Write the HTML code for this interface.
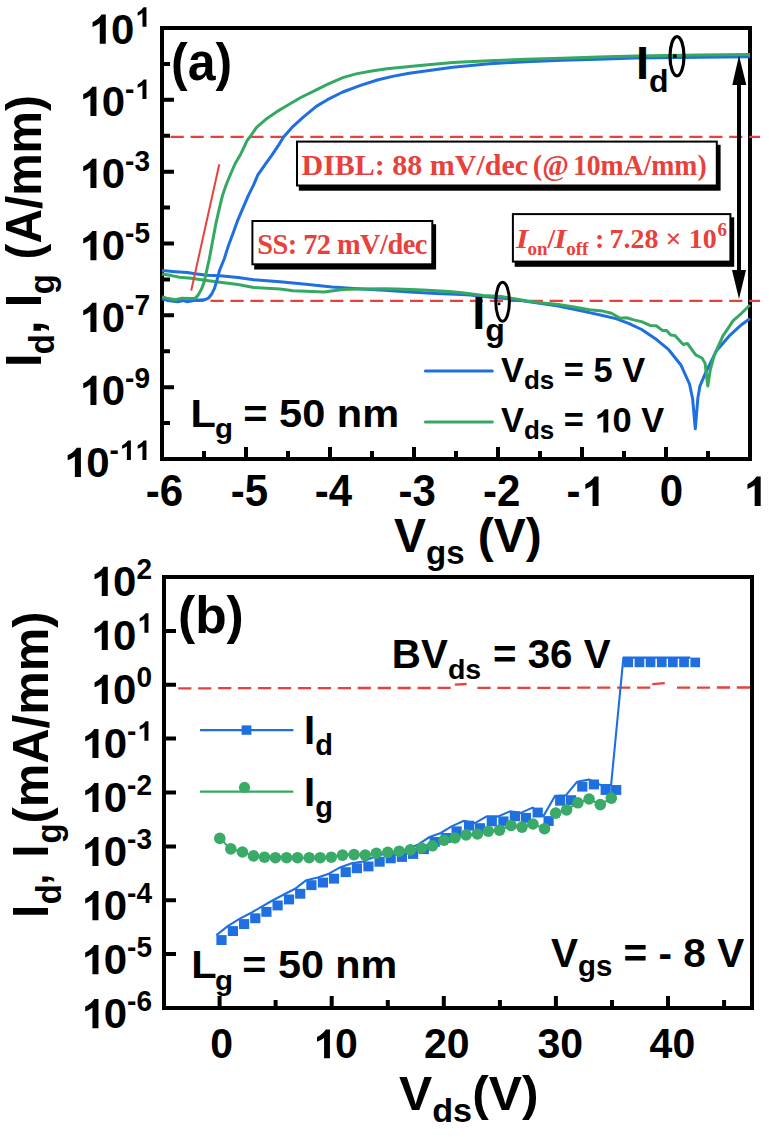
<!DOCTYPE html>
<html><head><meta charset="utf-8"><title>figure</title>
<style>
html,body{margin:0;padding:0;background:#fff;overflow:hidden;}
svg{display:block;}
text{font-family:"Liberation Sans",sans-serif;font-weight:bold;fill:#000;}
.ser text{font-family:"Liberation Serif",serif;fill:#e8413c;}
</style></head>
<body>
<svg width="769" height="1137" viewBox="0 0 769 1137">
<rect width="769" height="1137" fill="#fff"/>
<rect x="162" y="28" width="588" height="431" fill="none" stroke="#000" stroke-width="4"/>
<path d="M162 28.0H174 M162 63.9H170 M162 99.8H174 M162 135.8H170 M162 171.7H174 M162 207.6H170 M162 243.5H174 M162 279.4H170 M162 315.3H174 M162 351.3H170 M162 387.2H174 M162 423.1H170 M162 459.0H174 M162.0 459V447 M204.0 459V451 M246.0 459V447 M288.0 459V451 M330.0 459V447 M372.0 459V451 M414.0 459V447 M456.0 459V451 M498.0 459V447 M540.0 459V451 M582.0 459V447 M624.0 459V451 M666.0 459V447 M708.0 459V451 M750.0 459V447" stroke="#000" stroke-width="4" fill="none"/>
<path transform="translate(150.00,43.80) scale(1.0000,1.0300) translate(-62.29,0.00) scale(42.000,-42.000)" d="M0.43 0L0.43 0.675L0.33 0.675Q0.26 0.57 0.115 0.5L0.115 0.387Q0.21 0.42 0.287 0.475L0.287 0Z"/>
<path transform="translate(150.00,43.80) scale(1.0000,1.0300) translate(-15.58,-16.50) scale(28.000,-28.000)" d="M0.43 0L0.43 0.675L0.33 0.675Q0.26 0.57 0.115 0.5L0.115 0.387Q0.21 0.42 0.287 0.475L0.287 0Z"/>
<text id="o0" transform="translate(150.00,43.80) scale(1.0000,1.0300)" font-size="42" text-anchor="end"> 0<tspan dy="-16.5" font-size="28"> </tspan></text>
<path transform="translate(150.00,115.93) scale(1.0000,1.0300) translate(-71.61,0.00) scale(42.000,-42.000)" d="M0.43 0L0.43 0.675L0.33 0.675Q0.26 0.57 0.115 0.5L0.115 0.387Q0.21 0.42 0.287 0.475L0.287 0Z"/>
<path transform="translate(150.00,115.93) scale(1.0000,1.0300) translate(-15.58,-16.50) scale(28.000,-28.000)" d="M0.43 0L0.43 0.675L0.33 0.675Q0.26 0.57 0.115 0.5L0.115 0.387Q0.21 0.42 0.287 0.475L0.287 0Z"/>
<text id="o1" transform="translate(150.00,115.93) scale(1.0000,1.0300)" font-size="42" text-anchor="end"> 0<tspan dy="-16.5" font-size="28">- </tspan></text>
<path transform="translate(150.00,188.07) scale(1.0000,1.0300) translate(-71.61,0.00) scale(42.000,-42.000)" d="M0.43 0L0.43 0.675L0.33 0.675Q0.26 0.57 0.115 0.5L0.115 0.387Q0.21 0.42 0.287 0.475L0.287 0Z"/>
<text id="o2" transform="translate(150.00,188.07) scale(1.0000,1.0300)" font-size="42" text-anchor="end"> 0<tspan dy="-16.5" font-size="28">-3</tspan></text>
<path transform="translate(150.00,260.20) scale(1.0000,1.0300) translate(-71.61,0.00) scale(42.000,-42.000)" d="M0.43 0L0.43 0.675L0.33 0.675Q0.26 0.57 0.115 0.5L0.115 0.387Q0.21 0.42 0.287 0.475L0.287 0Z"/>
<text id="o3" transform="translate(150.00,260.20) scale(1.0000,1.0300)" font-size="42" text-anchor="end"> 0<tspan dy="-16.5" font-size="28">-5</tspan></text>
<path transform="translate(150.00,332.04) scale(1.0000,1.0300) translate(-71.61,0.00) scale(42.000,-42.000)" d="M0.43 0L0.43 0.675L0.33 0.675Q0.26 0.57 0.115 0.5L0.115 0.387Q0.21 0.42 0.287 0.475L0.287 0Z"/>
<text id="o4" transform="translate(150.00,332.04) scale(1.0000,1.0300)" font-size="42" text-anchor="end"> 0<tspan dy="-16.5" font-size="28">-7</tspan></text>
<path transform="translate(150.00,404.97) scale(1.0000,1.0300) translate(-71.61,0.00) scale(42.000,-42.000)" d="M0.43 0L0.43 0.675L0.33 0.675Q0.26 0.57 0.115 0.5L0.115 0.387Q0.21 0.42 0.287 0.475L0.287 0Z"/>
<text id="o5" transform="translate(150.00,404.97) scale(1.0000,1.0300)" font-size="42" text-anchor="end"> 0<tspan dy="-16.5" font-size="28">-9</tspan></text>
<path transform="translate(150.00,477.00) scale(1.0000,1.0300) translate(-87.17,0.00) scale(42.000,-42.000)" d="M0.43 0L0.43 0.675L0.33 0.675Q0.26 0.57 0.115 0.5L0.115 0.387Q0.21 0.42 0.287 0.475L0.287 0Z"/>
<path transform="translate(150.00,477.00) scale(1.0000,1.0300) translate(-31.14,-16.50) scale(28.000,-28.000)" d="M0.43 0L0.43 0.675L0.33 0.675Q0.26 0.57 0.115 0.5L0.115 0.387Q0.21 0.42 0.287 0.475L0.287 0Z"/>
<path transform="translate(150.00,477.00) scale(1.0000,1.0300) translate(-15.58,-16.50) scale(28.000,-28.000)" d="M0.43 0L0.43 0.675L0.33 0.675Q0.26 0.57 0.115 0.5L0.115 0.387Q0.21 0.42 0.287 0.475L0.287 0Z"/>
<text id="o6" transform="translate(150.00,477.00) scale(1.0000,1.0300)" font-size="42" text-anchor="end"> 0<tspan dy="-16.5" font-size="28">-  </tspan></text>
<text transform="translate(164.40,506.00) scale(1.0000,1.0400)" font-size="42" text-anchor="middle">-6</text>
<text transform="translate(249.50,506.00) scale(1.0000,1.0400)" font-size="42" text-anchor="middle">-5</text>
<text transform="translate(333.50,506.00) scale(1.0000,1.0400)" font-size="42" text-anchor="middle">-4</text>
<text transform="translate(417.10,506.00) scale(1.0000,1.0400)" font-size="42" text-anchor="middle">-3</text>
<text transform="translate(501.70,506.00) scale(1.0000,1.0400)" font-size="42" text-anchor="middle">-2</text>
<path transform="translate(585.20,506.00) scale(1.0000,1.0400) translate(-4.70,0.00) scale(42.000,-42.000)" d="M0.43 0L0.43 0.675L0.33 0.675Q0.26 0.57 0.115 0.5L0.115 0.387Q0.21 0.42 0.287 0.475L0.287 0Z"/>
<text id="o7" transform="translate(585.20,506.00) scale(1.0000,1.0400)" font-size="42" text-anchor="middle">- </text>
<text transform="translate(671.40,506.00) scale(1.0000,1.0400)" font-size="42" text-anchor="middle">0</text>
<path transform="translate(754.30,506.00) scale(1.0000,1.0400) translate(-11.68,0.00) scale(42.000,-42.000)" d="M0.43 0L0.43 0.675L0.33 0.675Q0.26 0.57 0.115 0.5L0.115 0.387Q0.21 0.42 0.287 0.475L0.287 0Z"/>
<text id="o8" transform="translate(754.30,506.00) scale(1.0000,1.0400)" font-size="42" text-anchor="middle"> </text>
<text transform="translate(40.70,367.10) rotate(-90) scale(1.0000,1.0400)" font-size="48">I</text>
<text transform="translate(53.90,354.20) rotate(-90) scale(1.0000,1.0400)" font-size="33">d</text>
<text transform="translate(40.70,333.90) rotate(-90) scale(1.0000,1.0400)" font-size="48">,</text>
<text transform="translate(40.70,307.30) rotate(-90) scale(1.0000,1.0400)" font-size="48">I</text>
<text transform="translate(53.50,294.30) rotate(-90) scale(1.0000,1.0400)" font-size="33">g</text>
<text transform="translate(40.70,259.50) rotate(-90) scale(0.9950,1.0400)" font-size="48">(A/mm)</text>
<text transform="translate(394.00,552.00)" font-size="48">V<tspan dy="12.4" font-size="33">gs</tspan><tspan dy="-12.4"> (V)</tspan></text>
<path d="M170.6 136.8H760 M170.6 300.8H760" stroke="#e8413c" stroke-width="2.3" stroke-dasharray="13.2 6.75" fill="none"/>
<g fill="none" stroke-width="3" stroke-linejoin="round">
<polyline points="162.0,270.5 175.6,271.7 187.3,272.5 195.1,273.7 206.8,275.2 220.0,275.8 238.0,277.6 253.6,279.7 280.0,281.7 306.0,284.3 332.0,286.9 358.0,288.7 384.0,290.3 410.0,292.1 436.0,293.4 462.0,294.5 470.0,295.0 492.1,297.2 514.2,299.4 527.5,301.6 543.0,303.8 558.4,306.0 573.9,309.3 589.4,312.6 602.6,315.5 615.9,318.6 629.2,323.7 641.6,329.5 656.2,339.3 668.7,349.7 681.1,365.3 689.5,384.0 692.6,398.6 695.3,428.8 697.8,398.6 699.9,386.1 706.1,371.6 716.5,350.7 729.0,336.2 741.5,324.7 750.0,318.5" stroke="#1f6fe0"/>
<polyline points="162.0,274.0 171.7,275.6 179.5,277.2 191.2,278.3 202.9,279.9 220.0,282.2 238.0,284.5 253.6,287.5 280.0,289.0 293.0,290.8 306.0,291.3 324.2,292.1 342.4,289.5 358.0,289.0 384.0,288.7 397.0,289.0 410.0,289.5 423.0,290.0 436.0,290.8 449.0,291.6 462.0,292.8 470.0,293.8 483.3,295.6 501.0,296.5 514.2,298.7 527.5,300.9 543.0,303.1 558.4,304.5 573.9,307.1 589.4,309.8 602.6,311.1 611.5,313.3 620.3,318.2 626.9,317.7 633.6,319.9 641.6,321.6 650.0,325.4 656.2,325.8 662.4,330.4 666.6,330.6 670.7,335.1 674.9,335.6 683.2,344.5 687.4,343.5 695.7,354.9 702.0,358.0 705.1,363.2 707.8,386.1 710.3,369.5 714.4,354.9 722.8,336.2 733.2,320.6 741.5,313.3 750.0,305.0" stroke="#35a862"/>
<polyline points="162.0,298.6 167.8,300.6 177.9,301.7 183.4,300.6 187.3,301.7 195.1,300.2 204.5,299.8 208.4,298.2 211.5,294.3 214.6,288.1 216.9,280.3 219.6,270.2 224.3,258.7 228.5,245.4 233.5,232.0 237.7,220.3 242.7,208.6 248.5,195.2 253.5,185.2 257.7,175.2 265.2,164.3 271.9,155.1 278.6,145.1 283.6,137.0 292.0,127.4 303.0,117.4 316.3,106.4 327.4,99.7 342.8,92.0 360.5,85.4 378.2,79.8 393.7,76.1 409.2,73.2 420.0,71.7 452.8,67.3 489.2,63.7 525.7,61.8 562.1,60.3 598.5,59.2 634.9,57.9 700.0,57.2 750.0,56.8" stroke="#1f6fe0"/>
<polyline points="162.0,296.7 167.8,298.6 175.6,299.8 181.8,298.2 189.6,298.6 195.1,298.4 198.2,295.1 201.3,289.6 203.7,283.4 206.0,274.0 207.6,266.2 209.1,260.0 210.9,250.4 213.4,237.0 215.9,223.6 219.3,208.6 222.6,195.2 226.0,185.2 230.1,175.2 235.2,163.5 240.2,155.1 244.3,146.7 246.9,140.9 250.2,136.5 256.6,127.4 265.5,119.6 276.5,111.9 287.6,105.3 300.8,97.5 316.3,89.8 327.4,84.3 342.8,77.6 356.1,73.9 371.6,71.0 387.0,68.8 404.7,67.0 420.0,65.5 452.8,62.6 489.2,60.8 525.7,59.3 562.1,58.2 598.5,57.1 634.9,56.0 700.0,55.0 750.0,54.5" stroke="#35a862"/>
</g>
<path d="M191.2 290.6L219.3 164.2" stroke="#e8413c" stroke-width="2" fill="none"/>
<rect x="298.8" y="144.8" width="421.8" height="45.9" fill="#000"/>
<rect x="297.0" y="141.6" width="419.8" height="43.9" fill="#fff" stroke="#000" stroke-width="2"/>
<rect x="254.2" y="224.2" width="181.9" height="45.3" fill="#000"/>
<rect x="252.4" y="221.0" width="179.9" height="43.3" fill="#fff" stroke="#000" stroke-width="2"/>
<rect x="514.7" y="217.3" width="219.5" height="49.5" fill="#000"/>
<rect x="512.9" y="214.1" width="217.5" height="47.5" fill="#fff" stroke="#000" stroke-width="2"/>
<g class="ser" fill="#e8413c">
<text x="301.5" y="175" font-size="30">DIBL: 88 mV/dec</text>
<text transform="translate(532.8,175) scale(1,1.04)" font-size="28.6">(@</text>
<text transform="translate(572.9,175) scale(0.968,1.04)" font-size="28.6">10mA/mm)</text>
<text transform="translate(257.3,254.3) scale(1,1.05)" font-size="28.4" textLength="170" lengthAdjust="spacing">SS: 72 mV/dec</text>
<text transform="translate(516.0,248.2) scale(1.13,1)" font-size="28" font-style="italic">I</text>
<text x="527.6" y="255.0" font-size="19">on</text>
<text x="547.5" y="248.2" font-size="28">/</text>
<text transform="translate(554.2,248.2) scale(1.13,1)" font-size="28" font-style="italic">I</text>
<text x="566.3" y="255.0" font-size="19">off</text>
<text x="594.9" y="248.2" font-size="28">:</text>
<text x="609.4" y="248.2" font-size="28">7.28</text>
<text x="665.4" y="248.2" font-size="28">&#215;</text>
<text x="688.8" y="248.2" font-size="28">10</text>
<text x="717.6" y="236.4" font-size="19">6</text>
</g>
<path d="M739 84V271" stroke="#000" stroke-width="4"/>
<path d="M739 55.4L732.3 85H746.3Z M739 298.9L732 270H746Z" fill="#000"/>
<text x="636" y="79" font-size="47">I<tspan dy="13.2" font-size="32">d</tspan></text>
<ellipse cx="677" cy="56.2" rx="7" ry="19.6" fill="none" stroke="#000" stroke-width="3.2"/>
<rect x="673" y="54.3" width="3.6" height="3.6" fill="#000"/>
<text x="472.2" y="328.7" font-size="47">I<tspan dy="12.5" font-size="32">g</tspan></text>
<ellipse cx="502.6" cy="301.8" rx="6.8" ry="19.5" fill="none" stroke="#000" stroke-width="3"/>
<rect x="497.8" y="302.5" width="2.6" height="2.6" fill="#000"/>
<path d="M425.4 371.1H492.3" stroke="#1f6fe0" stroke-width="3" stroke-linecap="round"/>
<path d="M425.4 422.1H492.3" stroke="#35a862" stroke-width="3" stroke-linecap="round"/>
<text x="501" y="381.6" font-size="34.4">V<tspan dy="7" font-size="26">ds</tspan><tspan dy="-7"> = 5 V</tspan></text>
<path transform="translate(501.00,432.40) translate(92.48,0.00) scale(34.400,-34.400)" d="M0.43 0L0.43 0.675L0.33 0.675Q0.26 0.57 0.115 0.5L0.115 0.387Q0.21 0.42 0.287 0.475L0.287 0Z"/>
<text id="o9" transform="translate(501.00,432.40)" font-size="34.4">V<tspan dy="7" font-size="26">ds</tspan><tspan dy="-7"> =  0 V</tspan></text>
<text transform="translate(190.40,427.40) scale(1.0650,1.0000)" font-size="39">L</text>
<text transform="translate(215.00,438.10) scale(1.0900,1.0000)" font-size="27">g</text>
<text transform="translate(243.30,427.40) scale(1.0650,1.0000)" font-size="39">= 50 nm</text>
<text transform="translate(171.00,80.00) scale(1.0000,1.0400)" font-size="50">(a)</text>
<rect x="164" y="577" width="588" height="431" fill="none" stroke="#000" stroke-width="4"/>
<path d="M164 577.0H176 M164 630.9H176 M164 684.8H176 M164 738.6H176 M164 792.5H176 M164 846.4H176 M164 900.2H176 M164 954.1H176 M164 1008.0H176 M219.6 1008V996 M275.6 1008V1000 M331.7 1008V996 M387.8 1008V1000 M443.8 1008V996 M499.9 1008V1000 M555.9 1008V996 M612.0 1008V1000 M668.0 1008V996 M724.1 1008V1000" stroke="#000" stroke-width="4" fill="none"/>
<path transform="translate(152.00,596.00) scale(1.0000,1.0300) translate(-62.29,0.00) scale(42.000,-42.000)" d="M0.43 0L0.43 0.675L0.33 0.675Q0.26 0.57 0.115 0.5L0.115 0.387Q0.21 0.42 0.287 0.475L0.287 0Z"/>
<text id="o10" transform="translate(152.00,596.00) scale(1.0000,1.0300)" font-size="42" text-anchor="end"> 0<tspan dy="-16.8" font-size="28">2</tspan></text>
<path transform="translate(152.00,650.02) scale(1.0000,1.0300) translate(-62.29,0.00) scale(42.000,-42.000)" d="M0.43 0L0.43 0.675L0.33 0.675Q0.26 0.57 0.115 0.5L0.115 0.387Q0.21 0.42 0.287 0.475L0.287 0Z"/>
<path transform="translate(152.00,650.02) scale(1.0000,1.0300) translate(-15.58,-16.80) scale(28.000,-28.000)" d="M0.43 0L0.43 0.675L0.33 0.675Q0.26 0.57 0.115 0.5L0.115 0.387Q0.21 0.42 0.287 0.475L0.287 0Z"/>
<text id="o11" transform="translate(152.00,650.02) scale(1.0000,1.0300)" font-size="42" text-anchor="end"> 0<tspan dy="-16.8" font-size="28"> </tspan></text>
<path transform="translate(152.00,704.05) scale(1.0000,1.0300) translate(-62.29,0.00) scale(42.000,-42.000)" d="M0.43 0L0.43 0.675L0.33 0.675Q0.26 0.57 0.115 0.5L0.115 0.387Q0.21 0.42 0.287 0.475L0.287 0Z"/>
<text id="o12" transform="translate(152.00,704.05) scale(1.0000,1.0300)" font-size="42" text-anchor="end"> 0<tspan dy="-16.8" font-size="28">0</tspan></text>
<path transform="translate(152.00,758.08) scale(1.0000,1.0300) translate(-71.61,0.00) scale(42.000,-42.000)" d="M0.43 0L0.43 0.675L0.33 0.675Q0.26 0.57 0.115 0.5L0.115 0.387Q0.21 0.42 0.287 0.475L0.287 0Z"/>
<path transform="translate(152.00,758.08) scale(1.0000,1.0300) translate(-15.58,-16.80) scale(28.000,-28.000)" d="M0.43 0L0.43 0.675L0.33 0.675Q0.26 0.57 0.115 0.5L0.115 0.387Q0.21 0.42 0.287 0.475L0.287 0Z"/>
<text id="o13" transform="translate(152.00,758.08) scale(1.0000,1.0300)" font-size="42" text-anchor="end"> 0<tspan dy="-16.8" font-size="28">- </tspan></text>
<path transform="translate(152.00,812.10) scale(1.0000,1.0300) translate(-71.61,0.00) scale(42.000,-42.000)" d="M0.43 0L0.43 0.675L0.33 0.675Q0.26 0.57 0.115 0.5L0.115 0.387Q0.21 0.42 0.287 0.475L0.287 0Z"/>
<text id="o14" transform="translate(152.00,812.10) scale(1.0000,1.0300)" font-size="42" text-anchor="end"> 0<tspan dy="-16.8" font-size="28">-2</tspan></text>
<path transform="translate(152.00,866.12) scale(1.0000,1.0300) translate(-71.61,0.00) scale(42.000,-42.000)" d="M0.43 0L0.43 0.675L0.33 0.675Q0.26 0.57 0.115 0.5L0.115 0.387Q0.21 0.42 0.287 0.475L0.287 0Z"/>
<text id="o15" transform="translate(152.00,866.12) scale(1.0000,1.0300)" font-size="42" text-anchor="end"> 0<tspan dy="-16.8" font-size="28">-3</tspan></text>
<path transform="translate(152.00,920.15) scale(1.0000,1.0300) translate(-71.61,0.00) scale(42.000,-42.000)" d="M0.43 0L0.43 0.675L0.33 0.675Q0.26 0.57 0.115 0.5L0.115 0.387Q0.21 0.42 0.287 0.475L0.287 0Z"/>
<text id="o16" transform="translate(152.00,920.15) scale(1.0000,1.0300)" font-size="42" text-anchor="end"> 0<tspan dy="-16.8" font-size="28">-4</tspan></text>
<path transform="translate(152.00,974.17) scale(1.0000,1.0300) translate(-71.61,0.00) scale(42.000,-42.000)" d="M0.43 0L0.43 0.675L0.33 0.675Q0.26 0.57 0.115 0.5L0.115 0.387Q0.21 0.42 0.287 0.475L0.287 0Z"/>
<text id="o17" transform="translate(152.00,974.17) scale(1.0000,1.0300)" font-size="42" text-anchor="end"> 0<tspan dy="-16.8" font-size="28">-5</tspan></text>
<path transform="translate(152.00,1028.20) scale(1.0000,1.0300) translate(-71.61,0.00) scale(42.000,-42.000)" d="M0.43 0L0.43 0.675L0.33 0.675Q0.26 0.57 0.115 0.5L0.115 0.387Q0.21 0.42 0.287 0.475L0.287 0Z"/>
<text id="o18" transform="translate(152.00,1028.20) scale(1.0000,1.0300)" font-size="42" text-anchor="end"> 0<tspan dy="-16.8" font-size="28">-6</tspan></text>
<text transform="translate(221.70,1058.30) scale(1.0000,1.0450)" font-size="41" text-anchor="middle">0</text>
<path transform="translate(335.10,1058.30) scale(1.0000,1.0450) translate(-22.80,0.00) scale(41.000,-41.000)" d="M0.43 0L0.43 0.675L0.33 0.675Q0.26 0.57 0.115 0.5L0.115 0.387Q0.21 0.42 0.287 0.475L0.287 0Z"/>
<text id="o19" transform="translate(335.10,1058.30) scale(1.0000,1.0450)" font-size="41" text-anchor="middle"> 0</text>
<text transform="translate(446.70,1058.30) scale(1.0000,1.0450)" font-size="41" text-anchor="middle">20</text>
<text transform="translate(560.20,1058.30) scale(1.0000,1.0450)" font-size="41" text-anchor="middle">30</text>
<text transform="translate(672.40,1058.30) scale(1.0000,1.0450)" font-size="41" text-anchor="middle">40</text>
<text transform="translate(47.80,918.00) rotate(-90) scale(1.0000,1.0500)" font-size="48">I</text>
<text transform="translate(61.00,904.20) rotate(-90) scale(1.0000,1.0500)" font-size="33">d</text>
<text transform="translate(47.50,884.50) rotate(-90)" font-size="38">,</text>
<text transform="translate(47.80,857.80) rotate(-90) scale(1.0000,1.0500)" font-size="48">I</text>
<text transform="translate(61.00,843.60) rotate(-90) scale(1.0000,1.0500)" font-size="33">g</text>
<text transform="translate(47.80,823.60) rotate(-90) scale(1.0200,1.0500)" font-size="48">(mA/mm)</text>
<text transform="translate(399.00,1110.00) scale(1.0370,1.0000)" font-size="48">V<tspan dy="12.4" font-size="33">ds</tspan><tspan dy="-12.4">(V)</tspan></text>
<path d="M178.2 688.3H191.4 M198.1 688.3H211.3 M218.1 688.2H231.3 M238.0 688.2H251.2 M258.0 688.2H271.2 M277.9 688.2H291.1 M297.9 688.1H311.1 M317.8 688.1H331.0 M337.8 688.1H351.0 M357.7 688.0H370.9 M377.7 688.0H390.9 M397.6 688.0H410.8 M417.6 688.0H430.8 M437.5 687.9H450.7 M454.9 684.6L466.6 684.0 M477.4 687.9H490.6 M497.4 687.9H510.6 M517.3 687.8H530.5 M537.3 687.8H550.5 M557.2 687.8H570.4 M577.2 687.7H590.4 M597.1 687.7H610.4 M617.1 687.7H630.3 M637.1 687.7H650.3 M652.3 684.2L664.8 683.2 M677.0 687.6H690.2 M696.9 687.6H710.1 M716.9 687.5H730.1 M736.8 687.5H750.0" stroke="#e8413c" stroke-width="2.3" fill="none"/>
<polyline points="216.4,935.1 227.8,926.1 239.0,919.1 250.2,913.3 261.3,906.9 272.5,900.5 283.9,894.5 295.1,888.8 306.3,880.2 317.8,877.6 328.9,873.7 340.6,867.2 351.8,863.3 363.3,861.5 374.5,856.8 385.6,853.4 396.8,852.0 408.0,849.0 418.7,844.2 429.6,837.0 440.8,833.0 451.5,826.4 464.0,820.7 474.9,823.2 486.7,816.4 498.3,816.4 509.8,811.4 520.8,812.9 532.6,807.6 543.5,816.1 555.1,795.8 566.0,795.2 577.2,781.7 588.8,779.5 600.6,785.0 611.1,785.0 623.4,657.6 634.6,657.6 645.7,657.6 656.9,657.6 668.0,657.6 679.2,657.6 690.4,657.6" fill="none" stroke="#1f6fe0" stroke-width="2.1" stroke-linejoin="round"/>
<polyline points="219.8,838.4 230.8,848.9 242.4,852.0 253.5,855.9 264.5,857.2 275.4,857.7 286.6,857.7 297.5,857.7 309.2,857.7 320.2,857.7 331.3,857.2 342.5,855.1 354.0,854.6 365.2,855.1 376.3,853.3 387.8,852.3 399.2,851.2 410.3,849.9 421.5,848.0 432.4,845.8 444.0,840.2 454.9,838.0 466.1,834.9 477.4,834.0 488.3,831.2 499.5,830.2 511.1,825.5 522.0,827.1 532.9,824.0 544.5,828.7 555.7,813.1 566.6,809.9 577.9,802.8 589.1,799.0 600.3,804.6 611.3,798.1" fill="none" stroke="#35a862" stroke-width="2"/>
<g fill="#1f6fe0">
<rect x="216.4" y="935.1" width="10.2" height="9.9"/>
<rect x="227.8" y="926.1" width="10.2" height="9.9"/>
<rect x="239.0" y="919.1" width="10.2" height="9.9"/>
<rect x="250.2" y="913.3" width="10.2" height="9.9"/>
<rect x="261.3" y="906.9" width="10.2" height="9.9"/>
<rect x="272.5" y="900.5" width="10.2" height="9.9"/>
<rect x="283.9" y="894.5" width="10.2" height="9.9"/>
<rect x="295.1" y="888.8" width="10.2" height="9.9"/>
<rect x="306.3" y="880.2" width="10.2" height="9.9"/>
<rect x="317.8" y="877.6" width="10.2" height="9.9"/>
<rect x="328.9" y="873.7" width="10.2" height="9.9"/>
<rect x="340.6" y="867.2" width="10.2" height="9.9"/>
<rect x="351.8" y="863.3" width="10.2" height="9.9"/>
<rect x="363.3" y="861.5" width="10.2" height="9.9"/>
<rect x="374.5" y="856.8" width="10.2" height="9.9"/>
<rect x="385.6" y="853.4" width="10.2" height="9.9"/>
<rect x="396.8" y="852.0" width="10.2" height="9.9"/>
<rect x="408.0" y="849.0" width="10.2" height="9.9"/>
<rect x="418.7" y="844.2" width="10.2" height="9.9"/>
<rect x="429.6" y="837.0" width="10.2" height="9.9"/>
<rect x="440.8" y="833.0" width="10.2" height="9.9"/>
<rect x="451.5" y="826.4" width="10.2" height="9.9"/>
<rect x="464.0" y="820.7" width="10.2" height="9.9"/>
<rect x="474.9" y="823.2" width="10.2" height="9.9"/>
<rect x="486.7" y="816.4" width="10.2" height="9.9"/>
<rect x="498.3" y="816.4" width="10.2" height="9.9"/>
<rect x="509.8" y="811.4" width="10.2" height="9.9"/>
<rect x="520.8" y="812.9" width="10.2" height="9.9"/>
<rect x="532.6" y="807.6" width="10.2" height="9.9"/>
<rect x="543.5" y="816.1" width="10.2" height="9.9"/>
<rect x="555.1" y="795.8" width="10.2" height="9.9"/>
<rect x="566.0" y="795.2" width="10.2" height="9.9"/>
<rect x="577.2" y="781.7" width="10.2" height="9.9"/>
<rect x="588.8" y="779.5" width="10.2" height="9.9"/>
<rect x="600.6" y="785.0" width="10.2" height="9.9"/>
<rect x="611.1" y="785.0" width="10.2" height="9.9"/>
<rect x="623.4" y="657.6" width="9.7" height="9.6"/>
<rect x="634.6" y="657.6" width="9.7" height="9.6"/>
<rect x="645.7" y="657.6" width="9.7" height="9.6"/>
<rect x="656.9" y="657.6" width="9.7" height="9.6"/>
<rect x="668.0" y="657.6" width="9.7" height="9.6"/>
<rect x="679.2" y="657.6" width="9.7" height="9.6"/>
<rect x="690.4" y="657.6" width="9.7" height="9.6"/>
</g>
<g fill="#3aaa68">
<circle cx="219.8" cy="838.4" r="5.8"/>
<circle cx="230.8" cy="848.9" r="5.8"/>
<circle cx="242.4" cy="852.0" r="5.8"/>
<circle cx="253.5" cy="855.9" r="5.8"/>
<circle cx="264.5" cy="857.2" r="5.8"/>
<circle cx="275.4" cy="857.7" r="5.8"/>
<circle cx="286.6" cy="857.7" r="5.8"/>
<circle cx="297.5" cy="857.7" r="5.8"/>
<circle cx="309.2" cy="857.7" r="5.8"/>
<circle cx="320.2" cy="857.7" r="5.8"/>
<circle cx="331.3" cy="857.2" r="5.8"/>
<circle cx="342.5" cy="855.1" r="5.8"/>
<circle cx="354.0" cy="854.6" r="5.8"/>
<circle cx="365.2" cy="855.1" r="5.8"/>
<circle cx="376.3" cy="853.3" r="5.8"/>
<circle cx="387.8" cy="852.3" r="5.8"/>
<circle cx="399.2" cy="851.2" r="5.8"/>
<circle cx="410.3" cy="849.9" r="5.8"/>
<circle cx="421.5" cy="848.0" r="5.8"/>
<circle cx="432.4" cy="845.8" r="5.8"/>
<circle cx="444.0" cy="840.2" r="5.8"/>
<circle cx="454.9" cy="838.0" r="5.8"/>
<circle cx="466.1" cy="834.9" r="5.8"/>
<circle cx="477.4" cy="834.0" r="5.8"/>
<circle cx="488.3" cy="831.2" r="5.8"/>
<circle cx="499.5" cy="830.2" r="5.8"/>
<circle cx="511.1" cy="825.5" r="5.8"/>
<circle cx="522.0" cy="827.1" r="5.8"/>
<circle cx="532.9" cy="824.0" r="5.8"/>
<circle cx="544.5" cy="828.7" r="5.8"/>
<circle cx="555.7" cy="813.1" r="5.8"/>
<circle cx="566.6" cy="809.9" r="5.8"/>
<circle cx="577.9" cy="802.8" r="5.8"/>
<circle cx="589.1" cy="799.0" r="5.8"/>
<circle cx="600.3" cy="804.6" r="5.8"/>
<circle cx="611.3" cy="798.1" r="5.8"/>
</g>
<path d="M200 730.2H293.4" stroke="#1f6fe0" stroke-width="2.2"/>
<rect x="241.6" y="725.4" width="9.8" height="9.4" fill="#1f6fe0"/>
<path d="M200 791.6H293.4" stroke="#35a862" stroke-width="2.2"/>
<circle cx="244.5" cy="787.4" r="5.6" fill="#3aaa68"/>
<text x="304" y="743.7" font-size="40">I<tspan dy="11.4" font-size="29">d</tspan></text>
<text x="304" y="806.1" font-size="40">I<tspan dy="10.5" font-size="29">g</tspan></text>
<text transform="translate(391.80,667.50) scale(1.0330,1.0500)" font-size="39">BV</text>
<text transform="translate(447.90,678.50) scale(1.0580,1.0000)" font-size="27">ds</text>
<text transform="translate(493.00,667.50) scale(1.0330,1.0500)" font-size="39">= 36 V</text>
<text transform="translate(191.20,978.40) scale(1.0650,1.0000)" font-size="39">L</text>
<text transform="translate(215.00,990.10) scale(1.0900,1.0000)" font-size="27">g</text>
<text transform="translate(242.30,978.40) scale(1.0600,1.0000)" font-size="39">= 50 nm</text>
<text transform="translate(551.00,967.20) scale(1.0140,1.0000)" font-size="40">V<tspan dy="8.6" font-size="29">gs</tspan><tspan dy="-8.6"> = - 8 V</tspan></text>
<text transform="translate(178.00,632.50) scale(1.0300,1.0400)" font-size="50">(b)</text>
</svg>
</body></html>
